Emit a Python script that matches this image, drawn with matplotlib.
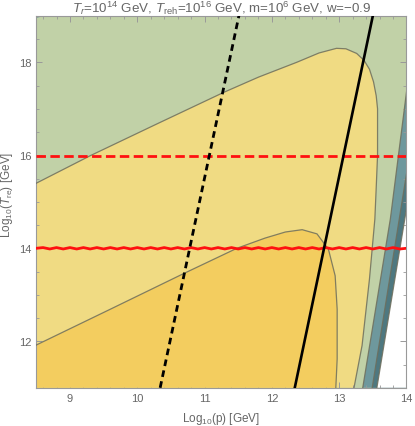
import matplotlib
matplotlib.use("Agg")
import matplotlib.pyplot as plt
from matplotlib.ticker import MultipleLocator

plt.rcParams['font.family'] = ['Liberation Sans', 'DejaVu Sans']
plt.rcParams['mathtext.fontset'] = 'custom'
plt.rcParams['mathtext.rm'] = 'Liberation Sans'
plt.rcParams['mathtext.it'] = 'Liberation Sans:italic'
plt.rcParams['mathtext.bf'] = 'Liberation Sans:bold'

# ---- data ----
x_range = [8.5, 14.0]
y_range = [11.0, 19.0]

# outer contour (light yellow / green boundary)
outer_x = [8.5, 9.30, 10.3, 11.28, 11.8, 12.37, 12.7, 12.96, 13.1, 13.26, 13.37,
           13.45, 13.51, 13.55, 13.57, 13.57, 13.55, 13.53, 13.45, 13.34, 13.22]
outer_y = [15.40, 15.99, 16.68, 17.35, 17.68, 18.0, 18.2, 18.30, 18.29, 18.19, 18.04,
           17.85, 17.58, 17.28, 17.0, 16.0, 15.3, 14.63, 13.34, 11.91, 11.0]

# inner contour (dark yellow / light yellow boundary)
inner_x = [8.5, 9.6, 10.68, 11.48, 11.9, 12.2, 12.45, 12.67, 12.84, 12.94, 12.97, 12.97, 12.95]
inner_y = [11.92, 12.69, 13.45, 14.0, 14.22, 14.35, 14.40, 14.31, 13.98, 13.41, 12.69, 11.62, 11.0]

# teal bands on the right
teal_x = [14.0, 13.76, 13.35]
teal_y = [17.36, 14.63, 11.0]
darkteal_x = [14.0, 13.49]
darkteal_y = [15.6, 11.0]
white_x = [14.0, 13.56]
white_y = [14.85, 11.0]
corner_x = [8.5, 8.5, 8.62]
corner_y = [18.95, 19.0, 19.0]

# black lines
solid_black_x = [12.34, 13.50]
solid_black_y = [11.0, 19.0]
dashed_black_x = [10.34, 11.51]
dashed_black_y = [11.0, 19.0]

# red lines
red_solid_x = [8.5, 8.6, 8.7, 8.8, 8.9, 9.0, 9.1, 9.2, 9.3, 9.4, 9.5, 9.6, 9.7, 9.8, 9.9,
               10.0, 10.1, 10.2, 10.3, 10.4, 10.5, 10.6, 10.7, 10.8, 10.9, 11.0, 11.1, 11.2,
               11.3, 11.4, 11.5, 11.6, 11.7, 11.8, 11.9, 12.0, 12.1, 12.2, 12.3, 12.4, 12.5,
               12.6, 12.7, 12.8, 12.9, 13.0, 13.1, 13.2, 13.3, 13.4, 13.5, 13.6, 13.7, 13.8,
               13.9, 14.0]
red_solid_y = [14.0, 14.015, 13.985, 14.015, 13.985, 14.015, 13.985, 14.015, 13.985, 14.015,
               13.985, 14.015, 13.985, 14.015, 13.985, 14.015, 13.985, 14.015, 13.985, 14.015,
               13.985, 14.015, 13.985, 14.015, 13.985, 14.015, 13.985, 14.015, 13.985, 14.015,
               13.985, 14.015, 13.985, 14.015, 13.985, 14.015, 13.985, 14.015, 13.985, 14.015,
               13.985, 14.015, 13.985, 14.015, 13.985, 14.015, 13.985, 14.015, 13.985, 14.015,
               13.985, 14.015, 13.985, 14.015, 13.985, 14.0]
red_dashed_x = [8.5, 14.0]
red_dashed_y = [15.99, 15.99]

title = r"$T_r$=10$^{14}$ GeV, $T_{\mathrm{reh}}$=10$^{16}$ GeV, m=10$^{6}$ GeV, w=−0.9"
xlabel = r"Log$_{10}$(p) [GeV]"
ylabel = r"Log$_{10}$($T_{\mathrm{re}}$) [GeV]"

# ---- colours ----
c_green = '#C1D1A7'
c_lyellow = '#F0DB83'
c_dyellow = '#F3CD5F'
c_teal = '#6E989D'
c_dteal = '#4E7880'
c_edge = '#6E6E5C'
gray = '#666666'

fig = plt.figure(figsize=(4.15, 4.27), dpi=100)
ax = fig.add_axes([0.0875, 0.0895, 0.892, 0.8712])
ax.set_xlim(*x_range)
ax.set_ylim(*y_range)

ax.fill([x_range[0], x_range[1], x_range[1], x_range[0]],
        [y_range[0], y_range[0], y_range[1], y_range[1]], color=c_green, lw=0, zorder=0)

ax.fill(outer_x + [x_range[0]], outer_y + [y_range[0]], color=c_lyellow, lw=0, zorder=1)
ax.fill(inner_x + [x_range[0]], inner_y + [y_range[0]], color=c_dyellow, lw=0, zorder=2)
ax.fill(teal_x + [x_range[1]], teal_y + [y_range[0]], color=c_teal, lw=0, zorder=1)
ax.fill(darkteal_x + [x_range[1]], darkteal_y + [y_range[0]], color=c_dteal, lw=0, zorder=1)
ax.fill(white_x + [x_range[1]], white_y + [y_range[0]], color='white', lw=0, zorder=1)
ax.fill(corner_x, corner_y, color=c_teal, lw=0, zorder=1)

for xs, ys in [(outer_x, outer_y), (inner_x, inner_y), (teal_x, teal_y),
               (darkteal_x, darkteal_y), (white_x, white_y)]:
    ax.plot(xs, ys, color=c_edge, lw=0.9, alpha=0.85, zorder=3)

ax.plot(red_solid_x, red_solid_y, color='#FF1010', lw=2.0, zorder=4)
ax.plot(red_dashed_x, red_dashed_y, color='#FF1010', lw=2.0, zorder=4, dashes=(3.4, 1.6))
ax.plot(solid_black_x, solid_black_y, color='black', lw=1.9, zorder=5)
ax.plot(dashed_black_x, dashed_black_y, color='black', lw=2.0, zorder=5, dashes=(2.4, 1.6))

ax.set_title(title, fontsize=9.6, color=gray, pad=0.5)
ax.set_xlabel(xlabel, fontsize=8.5, color=gray, labelpad=5)
ax.set_ylabel(ylabel, fontsize=8.5, color=gray)
ax.yaxis.set_label_coords(-0.058, 0.52)

ax.xaxis.set_major_locator(MultipleLocator(1))
ax.xaxis.set_minor_locator(MultipleLocator(0.2))
ax.yaxis.set_major_locator(MultipleLocator(2))
ax.yaxis.set_minor_locator(MultipleLocator(0.5))
ax.tick_params(which='both', direction='in', top=True, right=True, colors='#999999',
               labelcolor=gray, labelsize=8)
ax.tick_params(which='major', length=4, width=0.7)
ax.tick_params(which='minor', length=2.2, width=0.6)
for s in ax.spines.values():
    s.set_color('#999999')
    s.set_linewidth(0.8)

fig.savefig('out.png', dpi=100)
